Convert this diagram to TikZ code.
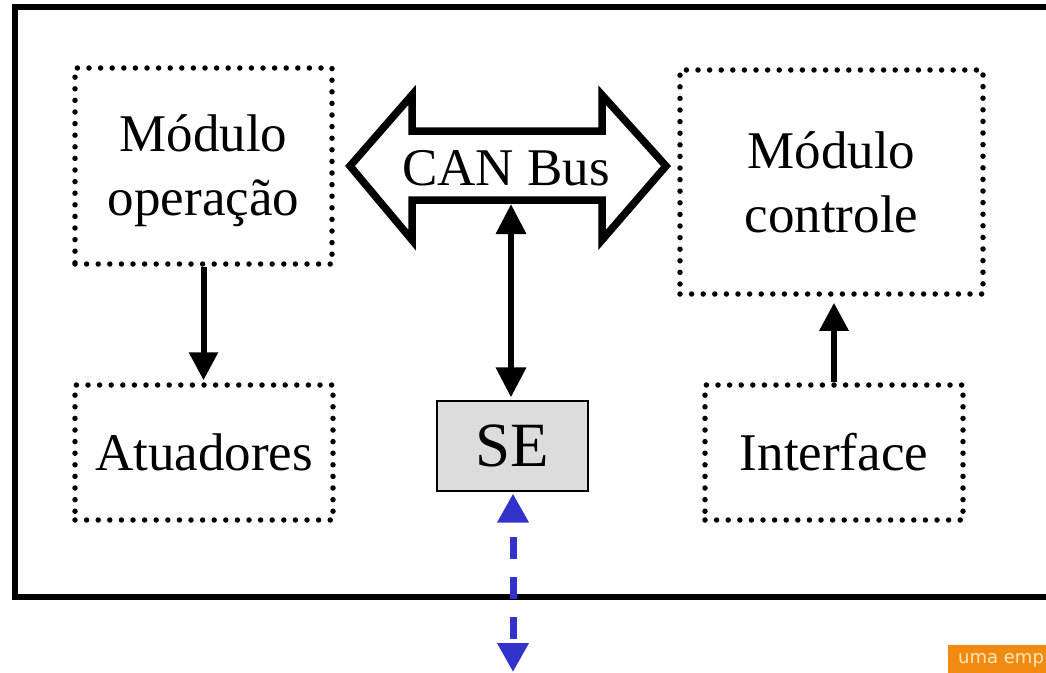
\documentclass[tikz,border=0pt]{standalone}
\usepackage{fontspec}
\setmainfont{Liberation Serif}
\newfontfamily\dejavu{DejaVu Sans}
\usetikzlibrary{arrows.meta}
\definecolor{seblue}{HTML}{3333CC}
\definecolor{segray}{HTML}{DCDCDC}
\definecolor{brand}{HTML}{F08A10}
\definecolor{brandtxt}{HTML}{FFE6C0}
\begin{document}
\begin{tikzpicture}[x=1pt,y=-1pt,
  dotbox/.style={draw, line width=5.5pt, line cap=round, dash pattern=on 0pt off 11.6pt, inner sep=0pt},
  lbl/.style={font=\fontsize{53}{64}\selectfont, align=center, inner sep=0pt},
  arr/.style={line width=6pt, -{Triangle[length=28pt,width=28pt]}},
  darr/.style={line width=6.5pt, {Triangle[length=30pt,width=29pt]}-{Triangle[length=30pt,width=29pt]}},
  barr/.style={seblue, line width=7pt, {Triangle[length=29pt,width=30pt]}-{Triangle[length=29pt,width=30pt]},
    dash pattern=on 22pt off 18pt, dash phase=24pt},
]
\useasboundingbox (0,0) rectangle (1046,672);
\clip (0,0) rectangle (1046,672);
\fill[white] (0,0) rectangle (1046,672);
% outer frame
\draw[line width=5.5pt] (15,7) rectangle (1080,597);
% boxes
\node[dotbox, minimum width=257pt, minimum height=196pt] (op) at (203.5,166) {};
\node[lbl] (opT) at (203.5,171) {Módulo\\operação};
\node[dotbox, minimum width=303pt, minimum height=224pt] (ctrl) at (831.5,182) {};
\node[lbl] (ctrlT) at (831.5,182) {Módulo\\controle};
\node[dotbox, lbl, minimum width=258pt, minimum height=135pt] (at) at (204,452.5) {Atuadores};
\node[dotbox, lbl, minimum width=258pt, minimum height=135pt] (if) at (834,452.5) {Interface};
\node[draw, fill=segray, line width=1.2pt, inner sep=0pt, minimum width=151pt, minimum height=90pt,
      font=\fontsize{63}{70}\selectfont] (se) at (512.5,446) {SE};
% CAN bus double arrow
\draw[line width=7.5pt, fill=white] (350,166) -- (412,95) -- (412,131) -- (602,131) -- (602,95)
   -- (666,166) -- (602,240) -- (602,200) -- (412,200) -- (412,240) -- cycle;
\node[lbl, anchor=base] (can) at (506,185) {CAN Bus};
\coordinate (canb) at (511,204);
\coordinate (bot) at (513,672);
% connectors
\draw[arr, shorten >=2pt] (op.south) -- (op.south |- at.north);
\draw[arr, shorten >=6pt] (if.north) -- (if.north |- ctrl.south);
\draw[darr, shorten >=3pt] (canb) -- (canb |- se.north);
\draw[barr, shorten <=2pt] (se.south -| bot) -- (bot);
% brand label
\node[fill=brand, anchor=north west, minimum width=120pt, minimum height=40pt, inner sep=0pt] (brandbox) at (948,645) {};
\node[anchor=base west, text=brandtxt, font=\dejavu\fontsize{18}{20}\selectfont, inner sep=0pt] (brandT) at (958,663) {uma emp};
\end{tikzpicture}
\end{document}
